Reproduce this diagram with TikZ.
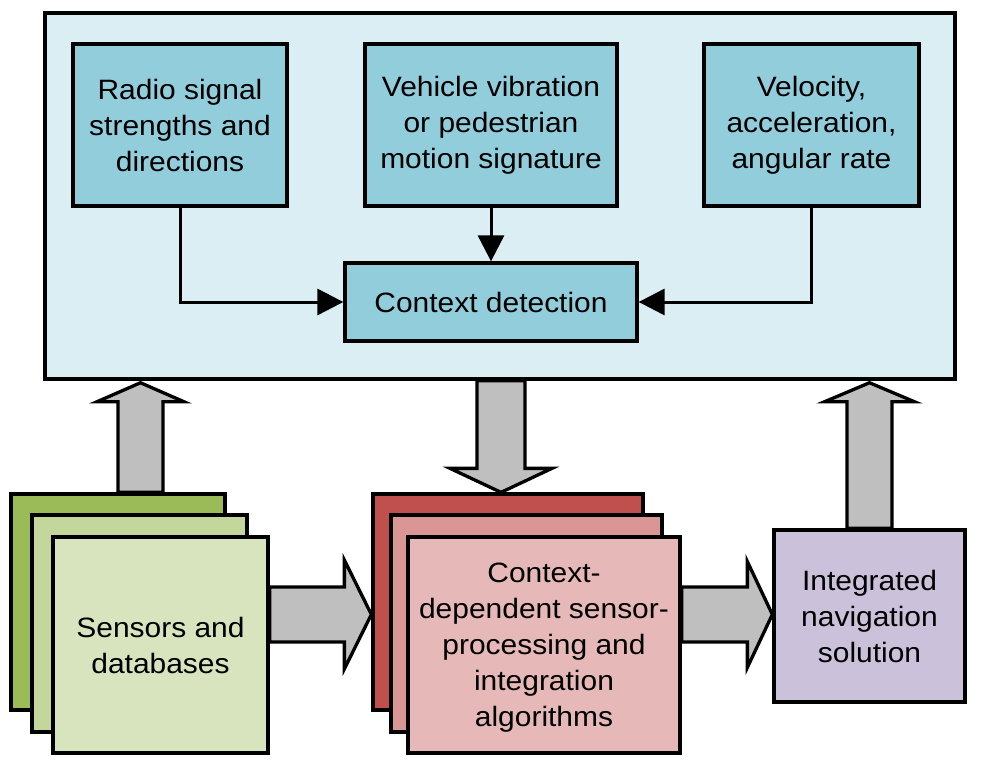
\documentclass[tikz,border=0pt]{standalone}
\usepackage{fontspec}
\setmainfont{Liberation Sans}[FakeStretch=1.07]
\usetikzlibrary{arrows.meta,calc}
\definecolor{mainfill}{HTML}{DAEEF3}
\definecolor{topfill}{HTML}{92CDDC}
\definecolor{gA}{HTML}{9BBB59}
\definecolor{gB}{HTML}{C3D69B}
\definecolor{gC}{HTML}{D7E4BD}
\definecolor{rA}{HTML}{C0504D}
\definecolor{rB}{HTML}{D99694}
\definecolor{rC}{HTML}{E6B9B8}
\definecolor{pfill}{HTML}{CCC1DA}
\definecolor{garrow}{HTML}{BFBFBF}
\pgfdeclarelayer{bg}
\pgfdeclarelayer{mid}
\pgfsetlayers{bg,mid,main}
\tikzset{
  box/.style={draw=black, line width=3.3pt, inner sep=0pt, align=center,
    font=\fontsize{28}{36}\selectfont},
  conn/.style={draw=black, line width=3pt, -{Triangle[length=26pt,width=26pt]}},
  bigarrow/.style={draw=black, fill=garrow, line width=3.3pt, line join=miter},
}
\begin{document}
\begin{tikzpicture}[x=1pt,y=-1pt]
\useasboundingbox (0,0) rectangle (983,778);
\begin{pgfonlayer}{bg}
\node[box, fill=mainfill, line width=3.5pt, minimum width=910pt, minimum height=366pt] (main) at (500,196) {};
\end{pgfonlayer}
% top boxes
\node[box, fill=topfill, minimum width=214pt, minimum height=162pt] (radio) at (180,125) {Radio signal\\strengths and\\directions};
\node[box, fill=topfill, minimum width=252pt, minimum height=162pt] (veh) at (491,125) {Vehicle vibration\\or pedestrian\\motion signature};
\node[box, fill=topfill, minimum width=215pt, minimum height=162pt] (vel) at (811.5,125) {Velocity,\\acceleration,\\angular rate};
\node[box, fill=topfill, minimum width=292pt, minimum height=78pt] (ctx) at (491,302) {Context detection};
\draw[conn] (radio.south) |- (ctx.west);
\draw[conn] (veh.south) -- (ctx.north);
\draw[conn] (vel.south) |- (ctx.east);
% bottom stacks
\node[box, fill=gA, minimum width=214pt, minimum height=216pt] (g1) at (118,602) {};
\node[box, fill=gB, minimum width=215pt, minimum height=217pt] (g2) at (139.5,623.5) {};
\node[box, fill=gC, minimum width=215pt, minimum height=216pt] (g3) at (160.5,645) {Sensors and\\databases};
\node[box, fill=rA, minimum width=270pt, minimum height=216pt] (r1) at (508,602) {};
\node[box, fill=rB, minimum width=271pt, minimum height=217pt] (r2) at (526.5,623.5) {};
\node[box, fill=rC, minimum width=272pt, minimum height=216pt] (r3) at (544,645) {\\[-12pt]Context-\\dependent sensor-\\processing and\\integration\\algorithms};
\node[box, fill=pfill, minimum width=191pt, minimum height=172pt] (nav) at (869.5,616) {Integrated\\navigation\\solution};
% block arrows
\begin{pgfonlayer}{mid}
\draw[bigarrow] let \p1=($(g1.north)+(22.5,0)$), \p2=(main.south) in
  (\x1-22.5pt,\y1) -- (\x1-22.5pt,\y2-21pt) -- (\x1-43.5pt,\y2-21pt) -- (\x1,\y2-2pt)
  -- (\x1+43.5pt,\y2-21pt) -- (\x1+22.5pt,\y2-21pt) -- (\x1+22.5pt,\y1) -- cycle;
\draw[bigarrow] let \p1=($(main.south)+(1,0)$), \p2=(r1.north) in
  (\x1-24pt,\y1) -- (\x1-24pt,\y2+24pt) -- (\x1-51pt,\y2+24pt) -- (\x1,\y2)
  -- (\x1+51pt,\y2+24pt) -- (\x1+24pt,\y2+24pt) -- (\x1+24pt,\y1) -- cycle;
\draw[bigarrow] let \p1=(nav.north), \p2=(main.south) in
  (\x1-22.5pt,\y1) -- (\x1-22.5pt,\y2-21pt) -- (\x1-45pt,\y2-21pt) -- (\x1,\y2-2pt)
  -- (\x1+45pt,\y2-21pt) -- (\x1+22.5pt,\y2-21pt) -- (\x1+22.5pt,\y1) -- cycle;
\draw[bigarrow] let \p1=($(g3.east)+(0,-30.5)$), \p2=(r1.west) in
  (\x1,\y1+27.5pt) -- (\x2-27pt,\y1+27.5pt) -- (\x2-27pt,\y1+54.5pt) -- (\x2,\y1)
  -- (\x2-27pt,\y1-54.5pt) -- (\x2-27pt,\y1-27.5pt) -- (\x1,\y1-27.5pt) -- cycle;
\draw[bigarrow] let \p1=($(r3.east)+(0,-30.5)$), \p2=(nav.west) in
  (\x1,\y1+27.5pt) -- (\x2-25pt,\y1+27.5pt) -- (\x2-25pt,\y1+53pt) -- (\x2,\y1)
  -- (\x2-25pt,\y1-53pt) -- (\x2-25pt,\y1-27.5pt) -- (\x1,\y1-27.5pt) -- cycle;
\end{pgfonlayer}
\end{tikzpicture}
\end{document}
